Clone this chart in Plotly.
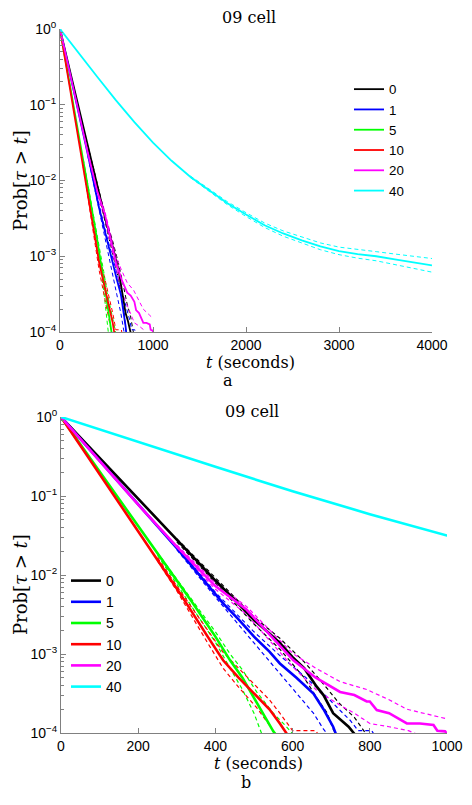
import plotly.graph_objects as go

# ---------------- data ----------------
labels = ["0", "1", "5", "10", "20", "40"]
colors = ["#000000", "#0000ff", "#00ff00", "#ff0000", "#ff00ff", "#00ffff"]

# solid survival curves
t_0 = [0, 100, 200, 300, 400, 455, 500, 540, 567, 600, 630, 662, 680, 705, 730, 745, 760]
p_0 = [1.0, 0.302, 0.0912, 0.0275, 0.00851, 0.00457, 0.00269, 0.00182, 0.00138, 0.000912,
       0.000661, 0.000389, 0.000302, 0.000178, 0.000141, 0.000120, 0.0000977]
t_1 = [0, 100, 200, 300, 420, 460, 500, 540, 567, 610, 654, 680, 705, 712]
p_1 = [1.0, 0.282, 0.0794, 0.0219, 0.00437, 0.00275, 0.00166, 0.00107, 0.000759, 0.000501,
       0.000316, 0.000200, 0.000120, 0.0000977]
t_5 = [0, 100, 200, 308, 339, 400, 438, 470, 507, 530, 550, 555]
p_5 = [1.0, 0.204, 0.0417, 0.00741, 0.00457, 0.00166, 0.000832, 0.000501, 0.000240, 0.000158,
       0.000105, 0.0000977]
t_10 = [0, 100, 200, 308, 380, 420, 460, 507, 540, 567, 580, 585]
p_10 = [1.0, 0.191, 0.0355, 0.00589, 0.00166, 0.000832, 0.000501, 0.000288, 0.000200, 0.000132,
        0.000105, 0.0000977]
t_20 = [0, 100, 200, 300, 400, 481, 540, 602, 660, 723, 760, 792, 800, 818, 850, 896, 930, 965,
        975, 995, 1000]
p_20 = [1.0, 0.275, 0.0776, 0.0229, 0.00724, 0.00363, 0.00178, 0.000832, 0.000501, 0.000331,
        0.000302, 0.000251, 0.000251, 0.000195, 0.000178, 0.000132, 0.000132, 0.000126,
        0.000107, 0.000105, 0.0000977]
t_40 = [0, 200, 400, 600, 800, 1000, 1200, 1400, 1600, 1800, 2000, 2200, 2400, 2600, 2800, 3000,
        3200, 3400, 3600, 3800, 4000]
p_40 = [1.0, 0.479, 0.234, 0.115, 0.0589, 0.0316, 0.0182, 0.0112, 0.00741, 0.00501, 0.00355,
        0.00257, 0.00200, 0.00162, 0.00135, 0.00117, 0.00107, 0.00100, 0.000912, 0.000832,
        0.000759]

# dashed confidence bounds (upper / lower)
tu_0 = [300, 400, 500, 567, 630, 680, 720, 760, 780, 790]
pu_0 = [0.0288, 0.00912, 0.00295, 0.00158, 0.000794, 0.000417, 0.000240, 0.000158, 0.000112, 0.0000977]
tl_0 = [300, 400, 500, 567, 630, 662, 690, 705, 712]
pl_0 = [0.0263, 0.00794, 0.00240, 0.00115, 0.000501, 0.000282, 0.000178, 0.000112, 0.0000977]

tu_1 = [300, 400, 500, 567, 630, 680, 720, 749, 770, 805, 810]
pu_1 = [0.0229, 0.00603, 0.00191, 0.000955, 0.000525, 0.000316, 0.000200, 0.000145, 0.000107,
        0.000107, 0.0000977]
tl_1 = [300, 400, 500, 567, 610, 654, 680, 690]
pl_1 = [0.0209, 0.00525, 0.00138, 0.000562, 0.000316, 0.000178, 0.000112, 0.0000977]

tu_5 = [250, 300, 400, 438, 470, 507, 550, 580, 600]
pu_5 = [0.0191, 0.00891, 0.00191, 0.00100, 0.000631, 0.000331, 0.000178, 0.000126, 0.0000977]
tl_5 = [250, 300, 400, 438, 470, 500, 515, 520]
pl_5 = [0.0178, 0.00759, 0.00141, 0.000661, 0.000355, 0.000178, 0.000112, 0.0000977]

tu_10 = [250, 300, 380, 420, 460, 507, 540, 567, 590, 600, 660, 665]
pu_10 = [0.0166, 0.00724, 0.00200, 0.00105, 0.000661, 0.000380, 0.000263, 0.000178, 0.000126,
         0.000107, 0.000107, 0.0000977]
tl_10 = [250, 300, 380, 420, 460, 507, 540, 555]
pl_10 = [0.0151, 0.00631, 0.00138, 0.000661, 0.000380, 0.000209, 0.000126, 0.0000977]

tu_20 = [300, 400, 481, 540, 602, 660, 723, 792, 850, 896, 965, 1000]
pu_20 = [0.0240, 0.00794, 0.00398, 0.00200, 0.00100, 0.000661, 0.000447, 0.000355, 0.000263,
         0.000200, 0.000166, 0.000151]
tl_20 = [300, 400, 481, 540, 602, 660, 723, 760, 800, 850, 900, 920]
pl_20 = [0.0219, 0.00661, 0.00316, 0.00151, 0.000676, 0.000355, 0.000224, 0.000178, 0.000132,
         0.000120, 0.000107, 0.0000977]

tu_40 = [1400, 1600, 1800, 2000, 2200, 2400, 2600, 2800, 3000, 3200, 3400, 3600, 3800, 4000]
pu_40 = [0.0115, 0.00767, 0.00525, 0.00376, 0.00275, 0.00216, 0.00178, 0.00150, 0.00132,
         0.00122, 0.00115, 0.00107, 0.00100, 0.000933]
tl_40 = [1400, 1600, 1800, 2000, 2200, 2400, 2600, 2800, 3000, 3200, 3400, 3600, 3800, 4000]
pl_40 = [0.01096, 0.00716, 0.00479, 0.00335, 0.00240, 0.00184, 0.00148, 0.00122, 0.00105,
         0.000944, 0.000871, 0.000776, 0.000692, 0.000617]

y_tickvals = [1e-4, 1e-3, 1e-2, 1e-1, 1]
y_ticktext = ["10<sup>−4</sup>", "10<sup>−3</sup>", "10<sup>−2</sup>", "10<sup>−1</sup>", "10<sup>0</sup>"]
x_ticks_a = [0, 1000, 2000, 3000, 4000]
x_ticks_b = [0, 200, 400, 600, 800, 1000]

solids = [(t_0, p_0), (t_1, p_1), (t_5, p_5), (t_10, p_10), (t_20, p_20), (t_40, p_40)]
uppers = [(tu_0, pu_0), (tu_1, pu_1), (tu_5, pu_5), (tu_10, pu_10), (tu_20, pu_20), (tu_40, pu_40)]
lowers = [(tl_0, pl_0), (tl_1, pl_1), (tl_5, pl_5), (tl_10, pl_10), (tl_20, pl_20), (tl_40, pl_40)]

# page body has an 8px margin: figure is 8px smaller and every pixel position is offset by 8
OFF = 8
W, H = 472 - OFF, 805 - OFF
fig = go.Figure()

panels = [
    dict(xa="x", ya="y", lw=1.8, dw=1.0, leg="legend"),
    dict(xa="x2", ya="y2", lw=2.6, dw=1.2, leg="legend2"),
]
for pn in panels:
    for i in range(6):
        for (tt, pp) in (uppers[i], lowers[i]):
            fig.add_trace(go.Scatter(x=tt, y=pp, mode="lines", xaxis=pn["xa"], yaxis=pn["ya"],
                                     line=dict(color=colors[i], width=pn["dw"], dash="4px,3px"),
                                     showlegend=False, hoverinfo="skip"))
    for i in range(6):
        fig.add_trace(go.Scatter(x=solids[i][0], y=solids[i][1], mode="lines", name=labels[i],
                                 xaxis=pn["xa"], yaxis=pn["ya"], legend=pn["leg"],
                                 line=dict(color=colors[i], width=pn["lw"])))

minor_vals = [m * 10.0 ** e for e in range(-4, 0) for m in range(2, 10)]
axis_common = dict(showline=True, linecolor="#808080", linewidth=1, ticks="inside",
                   tickcolor="#808080", ticklen=5, showgrid=False, zeroline=False,
                   automargin=False,
                   tickfont=dict(family="Liberation Sans, Arial", size=14, color="#000"))

def px_x(p):
    return (p - OFF) / W

def px_y(p):
    return 1 - (p - OFF) / H

fig.update_layout(
    width=W, height=H, margin=dict(l=0, r=0, t=0, b=0, pad=0), autosize=False,
    paper_bgcolor="white", plot_bgcolor="white",
    xaxis=dict(domain=[px_x(60), px_x(432)], range=[0, 4000], tickvals=x_ticks_a,
               anchor="y", **axis_common),
    yaxis=dict(domain=[px_y(332), px_y(29)], type="log", range=[-4, 0], tickvals=y_tickvals,
               ticktext=y_ticktext, anchor="x",
               minor=dict(tickvals=minor_vals, ticks="inside", ticklen=3, tickcolor="#808080"),
               **axis_common),
    xaxis2=dict(domain=[px_x(61), px_x(447)], range=[0, 1000], tickvals=x_ticks_b,
                anchor="y2", **axis_common),
    yaxis2=dict(domain=[px_y(733), px_y(417)], type="log", range=[-4, 0], tickvals=y_tickvals,
                ticktext=y_ticktext, anchor="x2",
                minor=dict(tickvals=minor_vals, ticks="inside", ticklen=3, tickcolor="#808080"),
                **axis_common),
    legend=dict(x=px_x(349), y=px_y(74), xanchor="left", yanchor="top",
                bgcolor="rgba(0,0,0,0)", font=dict(family="Liberation Sans, Arial", size=13.3, color="#000"),
                itemwidth=30, tracegroupgap=0),
    legend2=dict(x=px_x(66), y=px_y(565), xanchor="left", yanchor="top",
                 bgcolor="rgba(0,0,0,0)", font=dict(family="Liberation Sans, Arial", size=14, color="#000"),
                 itemwidth=30, tracegroupgap=0),
)

ann = [
    ("09 cell", 249, 17, 0, 16),
    ("<i>t</i> (seconds)", 250, 362, 0, 16),
    ("a", 228, 381, 0, 16),
    ("09 cell", 252, 411, 0, 16),
    ("<i>t</i> (seconds)", 258, 763, 0, 16),
    ("b", 246, 782, 0, 16),
    ("Prob[<i>τ</i> > <i>t</i>]", 20, 181, -90, 18),
    ("Prob[<i>τ</i> > <i>t</i>]", 20, 585, -90, 18),
]
for text, x, y, ang, fs in ann:
    fig.add_annotation(text=text, x=px_x(x), y=px_y(y), xref="paper", yref="paper",
                       xanchor="center", yanchor="middle", showarrow=False, textangle=ang,
                       font=dict(family="DejaVu Serif", size=fs, color="#000"))

fig.write_html("out.html")
